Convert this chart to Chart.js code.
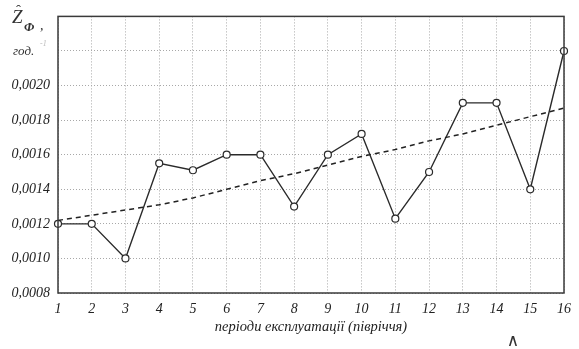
<!DOCTYPE html>
<html>
<head>
<meta charset="utf-8">
<script src="https://cdn.jsdelivr.net/npm/chart.js@4"></script>
<style>
html,body{margin:0;padding:0;background:#fff;}
#wrap{width:579px;height:349px;position:relative;}
</style>
</head>
<body>
<div id="wrap"><canvas id="c" width="579" height="349"></canvas></div>
<script>
const periods = ['1','2','3','4','5','6','7','8','9','10','11','12','13','14','15','16'];
const actualValues = [0.0012,0.0012,0.0010,0.00155,0.00151,0.0016,0.0016,0.0013,0.0016,0.00172,0.00123,0.0015,0.0019,0.0019,0.0014,0.0022];
const trendValues = [0.00122,0.00125,0.00128,0.00131,0.00135,0.00140,0.00145,0.00149,0.00154,0.00159,0.00163,0.00168,0.00172,0.00177,0.00182,0.00187];
const yTickLabels = ['0,0008','0,0010','0,0012','0,0014','0,0016','0,0018','0,0020'];
const xTitle = 'періоди експлуатації (півріччя)';
const unitLabel = 'год.';

const SERIF = "'Liberation Serif','DejaVu Serif',serif";

const extras = {
  id: 'extras',
  afterDraw(chart) {
    const ctx = chart.ctx;
    const a = chart.chartArea;
    ctx.save();
    // frame
    ctx.strokeStyle = '#3a3a3a';
    ctx.lineWidth = 1.5;
    ctx.strokeRect(a.left, a.top, a.right - a.left, a.bottom - a.top);
    // axis symbol
    ctx.fillStyle = '#333';
    ctx.textBaseline = 'alphabetic';
    ctx.textAlign = 'left';
    ctx.font = 'italic 19px ' + SERIF;
    ctx.fillText('Z', 12, 23);
    ctx.font = '15px ' + SERIF;
    ctx.fillText('ˆ', 16, 15);
    ctx.font = 'italic bold 13px ' + SERIF;
    ctx.fillText('Φ', 24, 31);
    ctx.font = 'italic 14px ' + SERIF;
    ctx.fillText(',', 40, 30);
    // unit
    const y22 = chart.scales.y.getPixelForValue(0.0022);
    ctx.font = 'italic 13px ' + SERIF;
    ctx.textBaseline = 'middle';
    ctx.fillText(unitLabel, 13, y22 + 1);
    ctx.fillStyle = '#bbb';
    ctx.font = 'italic 8px ' + SERIF;
    ctx.fillText('-1', 40, y22 - 7);
    // caret mark
    ctx.fillStyle = '#333';
    ctx.font = '17px ' + SERIF;
    ctx.textAlign = 'center';
    ctx.fillText('∧', 513, 342);
    ctx.restore();
  }
};

new Chart(document.getElementById('c'), {
  type: 'line',
  data: {
    labels: periods,
    datasets: [
      {
        data: trendValues,
        borderColor: '#222',
        borderWidth: 1.5,
        borderDash: [5, 4],
        pointRadius: 0,
        fill: false,
        tension: 0
      },
      {
        data: actualValues,
        borderColor: '#2a2a2a',
        borderWidth: 1.4,
        pointRadius: 3.5,
        pointBackgroundColor: '#fff',
        pointBorderColor: '#2a2a2a',
        pointBorderWidth: 1.2,
        fill: false,
        tension: 0
      }
    ]
  },
  options: {
    responsive: false,
    animation: false,
    devicePixelRatio: 1,
    clip: false,
    layout: { padding: { top: 13, right: 12, left: 0, bottom: 0 } },
    plugins: { legend: { display: false }, tooltip: { enabled: false } },
    scales: {
      x: {
        type: 'category',
        offset: false,
        border: { display: false, dash: [1, 2] },
        grid: { color: '#a8a8a8', lineWidth: 1, drawTicks: false },
        ticks: { color: '#222', padding: 8, maxRotation: 0, autoSkip: false, font: { family: SERIF, style: 'italic', size: 14 } },
        title: { display: true, text: xTitle, color: '#222', font: { family: SERIF, style: 'italic', size: 14.5 }, padding: { top: 0, bottom: 13 } },
        afterFit(s) { s.height = 56; }
      },
      y: {
        min: 0.0008,
        max: 0.0024,
        border: { display: false, dash: [1, 2] },
        grid: { color: '#a8a8a8', lineWidth: 1, drawTicks: false },
        ticks: {
          stepSize: 0.0002,
          padding: 8,
          color: '#222',
          font: { family: SERIF, style: 'italic', size: 14 },
          callback: function(v, i) { return i < yTickLabels.length ? yTickLabels[i] : ''; }
        },
        afterFit(s) { s.width = 58; }
      }
    }
  },
  plugins: [extras]
});
</script>
</body>
</html>
